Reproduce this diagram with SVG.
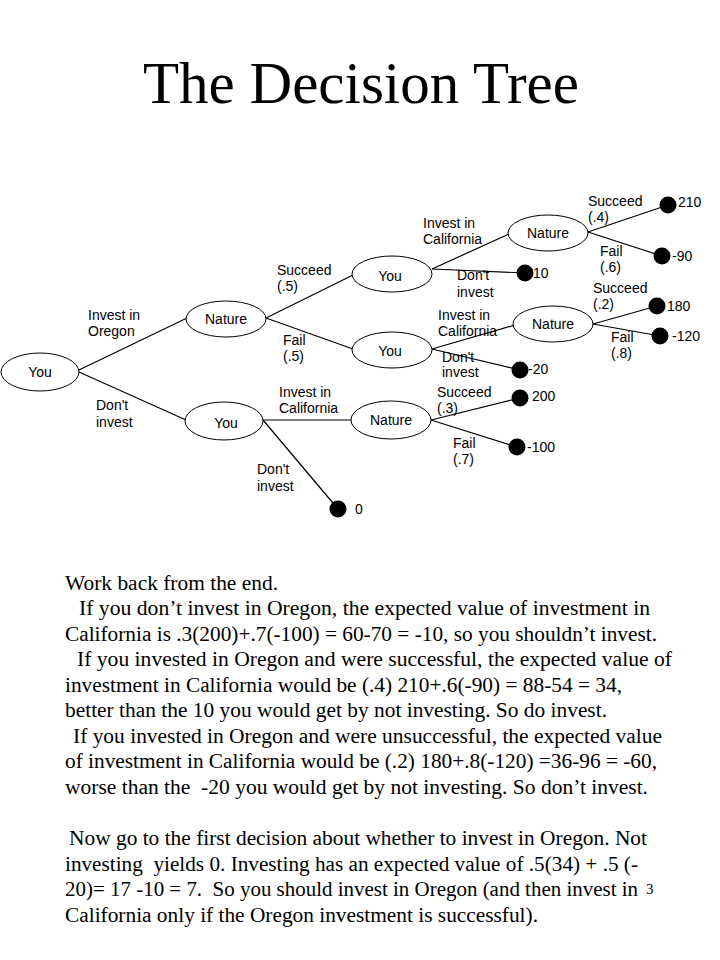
<svg xmlns="http://www.w3.org/2000/svg" width="720" height="960" viewBox="0 0 720 960">
<style>
.t{font-family:"Liberation Serif","Times New Roman",serif;fill:#000}
.body{font-size:21.3px}
.body text{white-space:pre}
.lbl{font-family:"Liberation Sans",Arial,sans-serif;font-size:14px;fill:#000}
.nt{font-family:"Liberation Sans",Arial,sans-serif;font-size:14px;fill:#000;text-anchor:middle}
.node ellipse{fill:#fff;stroke:#000;stroke-width:1}
.edge line{stroke:#000;stroke-width:1.2}
.dot{fill:#000}
</style>
<rect width="720" height="960" fill="#fff"/>
<text class="t" x="361" y="103" font-size="59" text-anchor="middle">The Decision Tree</text>

<g id="labels">
<text class="lbl" x="88" y="320">Invest in</text><text class="lbl" x="88" y="336">Oregon</text>
<text class="lbl" x="96" y="410">Don't</text><text class="lbl" x="96" y="427">invest</text>
<text class="lbl" x="277" y="275">Succeed</text><text class="lbl" x="277" y="291">(.5)</text>
<text class="lbl" x="283" y="345">Fail</text><text class="lbl" x="283" y="361">(.5)</text>
<text class="lbl" x="279" y="397">Invest in</text><text class="lbl" x="279" y="413">California</text>
<text class="lbl" x="257" y="474">Don't</text><text class="lbl" x="257" y="491">invest</text>
<text class="lbl" x="423" y="228">Invest in</text><text class="lbl" x="423" y="244">California</text>
<text class="lbl" x="457" y="280">Don't</text><text class="lbl" x="457" y="297">invest</text>
<text class="lbl" x="588" y="206">Succeed</text><text class="lbl" x="588" y="222">(.4)</text>
<text class="lbl" x="600" y="256">Fail</text><text class="lbl" x="600" y="272">(.6)</text>
<text class="lbl" x="593" y="293">Succeed</text><text class="lbl" x="593" y="309">(.2)</text>
<text class="lbl" x="438" y="320">Invest in</text><text class="lbl" x="438" y="336">California</text>
<text class="lbl" x="611" y="342">Fail</text><text class="lbl" x="611" y="358">(.8)</text>
<text class="lbl" x="442" y="362">Don't</text><text class="lbl" x="442" y="377">invest</text>
<text class="lbl" x="437" y="397">Succeed</text><text class="lbl" x="437" y="413">(.3)</text>
<text class="lbl" x="453" y="448">Fail</text><text class="lbl" x="453" y="464">(.7)</text>
</g>

<g id="connectors" class="edge">
<line x1="79" y1="370" x2="187" y2="318"/>
<line x1="79" y1="372" x2="186" y2="420"/>
<line x1="266" y1="318" x2="353" y2="275"/>
<line x1="266" y1="318" x2="353" y2="349"/>
<line x1="263" y1="420" x2="351" y2="420"/>
<line x1="263" y1="420" x2="338" y2="509"/>
<line x1="432" y1="269" x2="509" y2="234"/>
<line x1="432" y1="269" x2="525" y2="273"/>
<line x1="588" y1="232" x2="668" y2="205"/>
<line x1="588" y1="232" x2="662" y2="256"/>
<line x1="432" y1="349" x2="515" y2="325"/>
<line x1="432" y1="349" x2="520" y2="370"/>
<line x1="593" y1="324" x2="657" y2="306"/>
<line x1="593" y1="324" x2="660" y2="336"/>
<line x1="431" y1="420" x2="520" y2="398"/>
<line x1="431" y1="420" x2="517" y2="447"/>
</g>

<g id="n-you-root" class="node"><ellipse cx="40" cy="372" rx="39" ry="19"/><text class="nt" x="40" y="377">You</text></g>
<g id="n-nature-oregon" class="node"><ellipse cx="226" cy="319" rx="40" ry="18"/><text class="nt" x="226" y="324">Nature</text></g>
<g id="n-you-noinvest" class="node"><ellipse cx="224" cy="421" rx="39" ry="19"/><text class="nt" x="226" y="428">You</text></g>
<g id="n-you-succeed" class="node"><ellipse cx="392" cy="274" rx="40" ry="18"/><text class="nt" x="390" y="281">You</text></g>
<g id="n-you-fail" class="node"><ellipse cx="392" cy="350" rx="40" ry="18"/><text class="nt" x="390" y="356">You</text></g>
<g id="n-nature-ca-succ" class="node"><ellipse cx="548" cy="233" rx="40" ry="18"/><text class="nt" x="548" y="238">Nature</text></g>
<g id="n-nature-ca-fail" class="node"><ellipse cx="553" cy="324" rx="40" ry="18"/><text class="nt" x="553" y="329">Nature</text></g>
<g id="n-nature-ca-only" class="node"><ellipse cx="391" cy="420" rx="40" ry="19"/><text class="nt" x="391" y="425">Nature</text></g>

<g id="t-210"><circle class="dot" cx="668" cy="205" r="8.5"/><text class="lbl" x="678" y="207">210</text></g>
<g id="t-m90"><circle class="dot" cx="662" cy="256" r="8.5"/><text class="lbl" x="672" y="261">-90</text></g>
<g id="t-10"><circle class="dot" cx="525" cy="273" r="8.5"/><text class="lbl" x="533" y="278">10</text></g>
<g id="t-180"><circle class="dot" cx="657" cy="306" r="8.5"/><text class="lbl" x="667" y="311">180</text></g>
<g id="t-m120"><circle class="dot" cx="660" cy="336" r="8.5"/><text class="lbl" x="672" y="341">-120</text></g>
<g id="t-m20"><circle class="dot" cx="520" cy="370" r="8.5"/><text class="lbl" x="528" y="374">-20</text></g>
<g id="t-200"><circle class="dot" cx="520" cy="398" r="8.5"/><text class="lbl" x="532" y="401">200</text></g>
<g id="t-m100"><circle class="dot" cx="517" cy="447" r="8.5"/><text class="lbl" x="527" y="452">-100</text></g>
<g id="t-0"><circle class="dot" cx="338" cy="509" r="8.5"/><text class="lbl" x="355" y="514">0</text></g>

<g id="explanation" class="t body">
<text x="65" y="590" textLength="213" lengthAdjust="spacingAndGlyphs">Work back from the end.</text>
<text x="79" y="615" textLength="571" lengthAdjust="spacingAndGlyphs">If you don’t invest in Oregon, the expected value of investment in</text>
<text x="65" y="641" textLength="592" lengthAdjust="spacingAndGlyphs">California is .3(200)+.7(-100) = 60-70 = -10, so you shouldn’t invest.</text>
<text x="77" y="666" textLength="595" lengthAdjust="spacingAndGlyphs">If you invested in Oregon and were successful, the expected value of</text>
<text x="65" y="692" textLength="557" lengthAdjust="spacingAndGlyphs">investment in California would be (.4) 210+.6(-90) = 88-54 = 34,</text>
<text x="65" y="717" textLength="542" lengthAdjust="spacingAndGlyphs">better than the 10 you would get by not investing. So do invest.</text>
<text x="73" y="743" textLength="589" lengthAdjust="spacingAndGlyphs">If you invested in Oregon and were unsuccessful, the expected value</text>
<text x="65" y="768" textLength="592" lengthAdjust="spacingAndGlyphs">of investment in California would be (.2) 180+.8(-120) =36-96 = -60,</text>
<text x="65" y="794" textLength="583" lengthAdjust="spacingAndGlyphs" xml:space="preserve">worse than the  -20 you would get by not investing. So don’t invest.</text>
<text x="69" y="845" textLength="578" lengthAdjust="spacingAndGlyphs">Now go to the first decision about whether to invest in Oregon. Not</text>
<text x="65" y="871" textLength="573" lengthAdjust="spacingAndGlyphs" xml:space="preserve">investing  yields 0. Investing has an expected value of .5(34) + .5 (-</text>
<text x="65" y="896" textLength="573" lengthAdjust="spacingAndGlyphs" xml:space="preserve">20)= 17 -10 = 7.  So you should invest in Oregon (and then invest in</text>
<text x="65" y="922" textLength="473" lengthAdjust="spacingAndGlyphs">California only if the Oregon investment is successful).</text>
</g>
<text class="t" x="646" y="894" font-size="15">3</text>
</svg>
